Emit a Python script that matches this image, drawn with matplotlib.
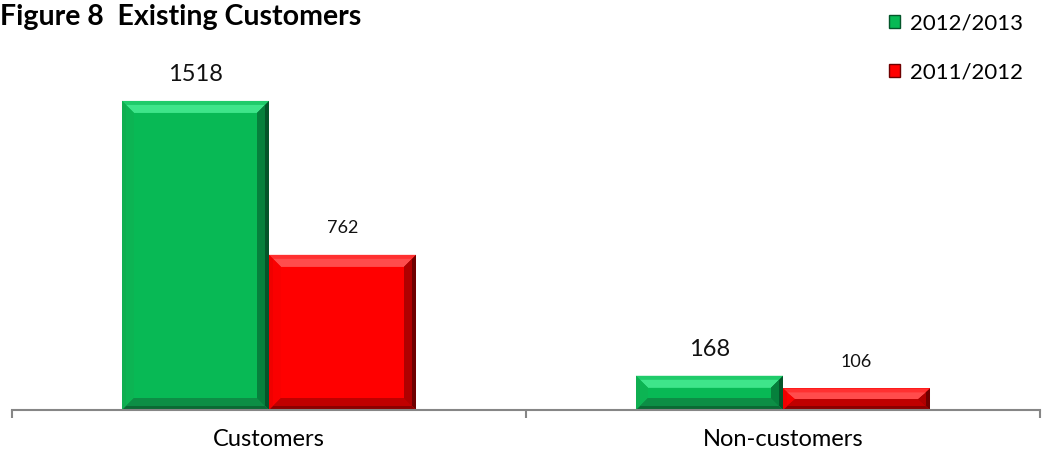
#!/usr/bin/env python3

import matplotlib
matplotlib.use('Agg')
import matplotlib.pyplot as plt
from matplotlib.patches import Polygon, Patch

categories = ['Customers', 'Non-customers']
series_names = ['2012/2013', '2011/2012']
values_2012_2013 = [1518, 168]
values_2011_2012 = [762, 106]
label_sizes = [17, 13]  # green labels are larger in the original

face_colors = ['#08B955', '#FF0000']
# outer and inner rings of the bevel: top, left, right, bottom
bevel_outer = [
    ['#1FCB6A', '#0FAE50', '#04552A', '#0A6A34'],
    ['#FF3030', '#F00000', '#6E0000', '#8C0000'],
]
bevel_inner = [
    ['#3EE58A', '#0CB453', '#06803C', '#0C8E45'],
    ['#FF4C4C', '#FA0000', '#B00000', '#C00000'],
]

plt.rcParams['font.family'] = ['Lato', 'DejaVu Sans']


def bevel(ax, x0, y0, w, h, colors, bx, by, zorder):
    """Draw one Excel-like bevel ring inside the box (x0, y0, w, h)."""
    by = min(by, h / 2.0)
    bx = min(bx, w / 2.0)
    x1 = x0 + w
    y1 = y0 + h
    top, left, right, bottom = colors
    shapes = [
        ([(x0, y1), (x1, y1), (x1 - bx, y1 - by), (x0 + bx, y1 - by)], top),
        ([(x0, y0), (x0, y1), (x0 + bx, y1 - by), (x0 + bx, y0 + by)], left),
        ([(x1, y0), (x1, y1), (x1 - bx, y1 - by), (x1 - bx, y0 + by)], right),
        ([(x0, y0), (x1, y0), (x1 - bx, y0 + by), (x0 + bx, y0 + by)], bottom),
    ]
    for pts, c in shapes:
        ax.add_patch(Polygon(pts, closed=True, facecolor=c, edgecolor='none', zorder=zorder))


def main():
    fig = plt.figure(figsize=(10.42, 4.59), dpi=100)
    ax = fig.add_axes([12 / 1042, 1 - 410 / 459, 1028 / 1042, 350 / 459])

    ymax = 1719
    ax.set_xlim(-0.5, len(categories) - 0.5)
    ax.set_ylim(0, ymax)

    width = 0.286
    # pixel -> data unit factors, for the bevel sizes
    px_x = 1028 / len(categories)
    px_y = 350 / ymax

    all_values = [values_2012_2013, values_2011_2012]
    for s, vals in enumerate(all_values):
        offset = (s - 0.5) * width
        for i, v in enumerate(vals):
            x = i + offset
            ax.bar(x, v, width=width, color=face_colors[s], edgecolor='none', zorder=2)
            # outer bevel, then a lighter inner ring to fake the gradient
            bevel(ax, x - width / 2, 0, width, v, bevel_outer[s], 12 / px_x, 12 / px_y, 3)
            x_in = 4 / px_x
            y_in = min(4 / px_y, v / 4)
            bevel(ax, x - width / 2 + x_in, y_in, width - 2 * x_in, v - 2 * y_in,
                  bevel_inner[s], 8 / px_x, 8 / px_y, 3.5)
            ax.annotate(str(v), xy=(x, v), xytext=(0, 19), textcoords='offset points',
                        ha='center', va='center', fontsize=label_sizes[s], color='#111111')

    for side in ['top', 'left', 'right']:
        ax.spines[side].set_visible(False)
    ax.spines['bottom'].set_color('#868686')
    ax.spines['bottom'].set_linewidth(1.5)
    ax.spines['bottom'].set_zorder(4)

    ax.set_yticks([])
    ax.set_xticks([i - 0.5 for i in range(len(categories) + 1)])
    ax.set_xticklabels([])
    ax.tick_params(axis='x', which='major', length=6, width=1.5, color='#868686', direction='out')
    ax.set_xticks(range(len(categories)), minor=True)
    ax.set_xticklabels(categories, minor=True, fontsize=17)
    ax.tick_params(axis='x', which='minor', length=0, pad=14)

    fig.text(0.0, 1 - 17 / 459, 'Figure 8  Existing Customers', fontsize=20.5,
             fontweight='bold', ha='left', va='center')

    handles = [Patch(facecolor=face_colors[s], edgecolor=bevel_outer[s][2]) for s in range(2)]
    fig.legend(handles, series_names, loc='upper left', bbox_to_anchor=(876 / 1042, 1.0),
               frameon=False, fontsize=16, handlelength=0.5, handleheight=0.5,
               handletextpad=0.45, labelspacing=1.3, borderaxespad=0.2)

    fig.savefig('out.png', dpi=100)


if __name__ == '__main__':
    main()
